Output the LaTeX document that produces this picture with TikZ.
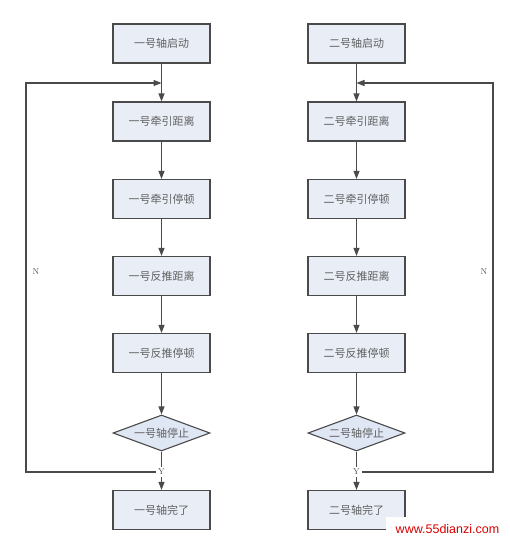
\documentclass[tikz,border=0pt]{standalone}
\usepackage{fontspec}
\newfontfamily\cjk{Noto Sans CJK SC}
\newfontfamily\markfont{Liberation Sans}
\usetikzlibrary{arrows.meta, positioning, shapes.geometric}
\definecolor{boxfill}{HTML}{E8EDF6}
\definecolor{askfill}{HTML}{DFE7F4}
\definecolor{edge}{HTML}{4A4A4A}

\begin{document}
\begin{tikzpicture}[x=1pt, y=-1pt,
  stepbox/.style={
    draw=edge, fill=boxfill, line width=1.1pt, minimum width=97pt, minimum height=39pt,
    inner sep=0pt, font=\cjk\fontsize{11}{13}\selectfont, text=black!62
  },
  decision/.style={
    diamond, aspect=2.7, draw=edge, fill=askfill, line width=1.1pt,
    minimum width=97pt, minimum height=36pt, inner sep=0pt,
    font=\cjk\fontsize{11}{13}\selectfont, text=black!62
  },
  arrow/.style={-{Triangle[length=8pt,width=6pt]}, line width=1.1pt, color=edge},
  branch/.style={font=\fontsize{8.5}{9}\selectfont, text=black!70, inner sep=1.5pt},
  yes/.style={branch, fill=white, inner sep=2pt}
]
\useasboundingbox (0,0) rectangle (509,541);

% --- Axis one (left column) ---
\node[stepbox] (a0) at (161.5,43.5) {一号轴启动};
\node[stepbox] (a1) at (161.5,121.5) {一号牵引距离};
\node[stepbox] (a2) at (161.5,199) {一号牵引停顿};
\node[stepbox] (a3) at (161.5,276) {一号反推距离};
\node[stepbox] (a4) at (161.5,353) {一号反推停顿};
\node[decision] (ad) at (161.5,433) {一号轴停止};
\node[stepbox] (af) at (161.5,510) {一号轴完了};

% --- Axis two (right column) ---
\node[stepbox] (b0) at (356.5,43.5) {二号轴启动};
\node[stepbox] (b1) at (356.5,121.5) {二号牵引距离};
\node[stepbox] (b2) at (356.5,199) {二号牵引停顿};
\node[stepbox] (b3) at (356.5,276) {二号反推距离};
\node[stepbox] (b4) at (356.5,353) {二号反推停顿};
\node[decision] (bd) at (356.5,433) {二号轴停止};
\node[stepbox] (bf) at (356.5,510) {二号轴完了};

% --- Main flow ---
\draw[arrow] (a0) -- (a1);
\draw[arrow] (a1) -- (a2);
\draw[arrow] (a2) -- (a3);
\draw[arrow] (a3) -- (a4);
\draw[arrow] (a4) -- (ad);
\draw[arrow] (ad) -- (af);
\draw[arrow] (b0) -- (b1);
\draw[arrow] (b1) -- (b2);
\draw[arrow] (b2) -- (b3);
\draw[arrow] (b3) -- (b4);
\draw[arrow] (b4) -- (bd);
\draw[arrow] (bd) -- (bf);

% --- Decision labels and loop back ---
\node[yes] (ay) at (161.5,472) {Y};
\node[yes] (by) at (356.5,472) {Y};
\coordinate (aturn) at (26,472);
\coordinate (ajoin) at (161.5,83);
\coordinate (bturn) at (493,472);
\coordinate (bjoin) at (356.5,83);
\draw[arrow] (ay.west) -- (aturn) |- (ajoin);
\draw[arrow] (by.east) -- (bturn) |- (bjoin);
\node[branch] (an) at (36,272) {N};
\node[branch] (bn) at (484,272) {N};

% --- Watermark ---
\node[fill=white, minimum width=123pt, minimum height=24pt, inner sep=0pt,
  font=\markfont\fontsize{12.5}{14}\selectfont, text=red!85!black] (mark) at (447.5,529) {www.55dianzi.com};

\end{tikzpicture}
\end{document}
